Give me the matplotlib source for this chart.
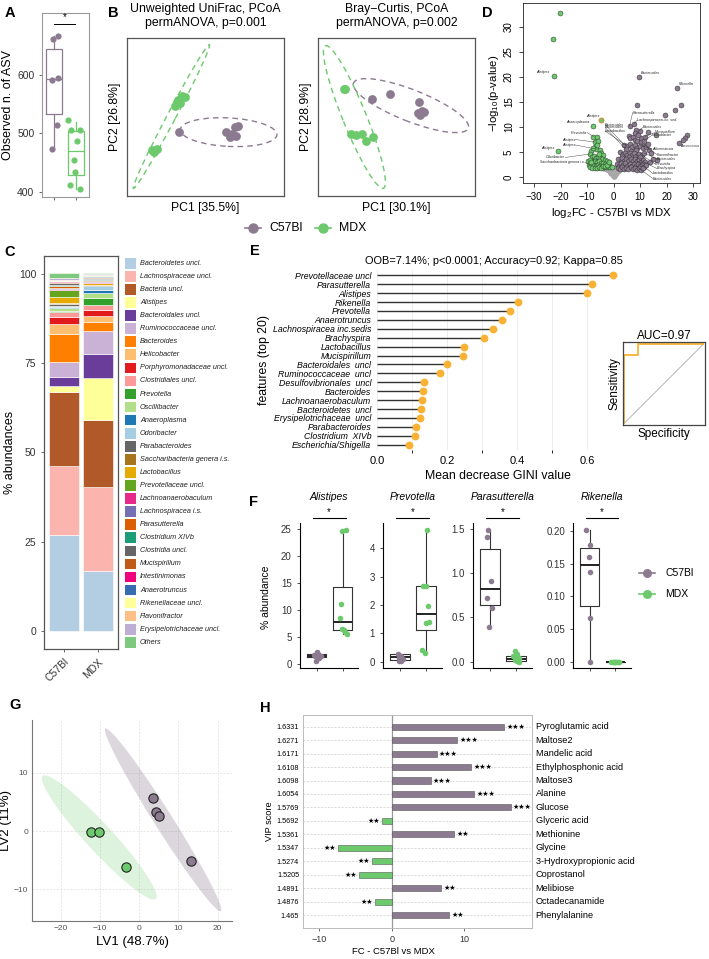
import matplotlib

matplotlib.use("Agg")
import matplotlib.pyplot as plt
import matplotlib.transforms as mtransforms
from matplotlib.patches import Ellipse, Rectangle
import numpy as np

plt.rcParams['font.family'] = ['Liberation Sans', 'DejaVu Sans']
plt.rcParams['mathtext.default'] = 'regular'

W, H = 709, 959
PURPLE = '#8c7b90'
GREEN = '#6cc96c'
ORANGE = '#f9b233'

# ---------- A: observed ASVs ----------
asv_c57_x = [0.97, 1.20, 0.90, 1.17, 1.15, 0.90]
asv_c57 = [662, 667, 591, 595, 514, 474]
asv_mdx_x = [1.62, 1.77, 2.18, 2.03, 1.91, 1.97, 1.73, 2.18]
asv_mdx = [522, 506, 506, 487, 454, 434, 412, 404]
asv_box = [dict(med=593, q1=533, q3=644, whislo=474, whishi=667),
           dict(med=470, q1=428, q3=504, whislo=404, whishi=520)]

# ---------- B: PCoA (axes-fraction coordinates) ----------
uni_c57 = [(0.332, 0.406), (0.630, 0.406), (0.655, 0.372), (0.687, 0.436),
           (0.708, 0.440), (0.693, 0.381), (0.666, 0.393)]
uni_mdx = [(0.317, 0.598), (0.349, 0.630), (0.370, 0.626), (0.328, 0.609),
           (0.307, 0.571), (0.338, 0.588), (0.159, 0.288), (0.190, 0.296), (0.173, 0.281)]
bc_c57 = [(0.343, 0.617), (0.456, 0.645), (0.646, 0.592), (0.640, 0.524),
          (0.661, 0.539), (0.676, 0.533), (0.650, 0.514)]
bc_mdx = [(0.167, 0.679), (0.174, 0.677), (0.210, 0.391), (0.244, 0.387),
          (0.280, 0.391), (0.307, 0.351), (0.350, 0.372)]
# (cx, cy, width, height, angle)
uni_ell = {'c57': (0.647, 0.404, 0.617, 0.18, -3), 'mdx': (0.283, 0.503, 1.03, 0.055, 62)}
bc_ell = {'c57': (0.592, 0.572, 0.785, 0.20, -21.4), 'mdx': (0.232, 0.500, 0.975, 0.15, -67.7)}

# ---------- C: taxa composition ----------
taxa = ['Bacteroidetes uncl.', 'Lachnospiraceae uncl.', 'Bacteria uncl.', 'Alistipes',
        'Bacteroidales uncl.', 'Ruminococcaceae uncl.', 'Bacteroides', 'Helicobacter',
        'Porphyromonadaceae uncl.', 'Clostridiales uncl.', 'Prevotella', 'Oscillibacter',
        'Anaeroplasma', 'Odoribacter', 'Parabacteroides', 'Saccharibacteria genera i.s.',
        'Lactobacillus', 'Prevotellaceae uncl.', 'Lachnoanaerobaculum', 'Lachnospiracea i.s.',
        'Parasutterella', 'Clostridium XIVb', 'Clostridia uncl.', 'Mucispirillum',
        'Intestinimonas', 'Anaerotruncus', 'Rikenellaceae uncl.', 'Flavonifractor',
        'Erysipelotrichaceae uncl.', 'Others']
taxa_colors = ['#b3cde3', '#fbb4ae', '#b15928', '#ffff99', '#6a3d9a', '#cab2d6', '#ff7f00',
               '#fdbf6f', '#e31a1c', '#fb9a99', '#33a02c', '#b2df8a', '#1f78b4', '#a6cee3',
               '#666666', '#a6761d', '#e6ab02', '#66a61e', '#e7298a', '#7570b3', '#d95f02',
               '#1b9e77', '#666666', '#bf5b17', '#f0027f', '#386cb0', '#ffff99', '#fdc086',
               '#beaed4', '#7fc97f']
abund_c57 = [26.9, 19.4, 20.8, 1.6, 2.4, 4.2, 8.0, 2.8, 1.8, 1.6, 0.2, 0.7, 0.4, 0.4, 0.4,
             0.3, 1.7, 1.9, 0.3, 0.4, 0.6, 0.3, 0.3, 0.4, 0.2, 0.2, 0.1, 0.2, 0.3, 1.4]
abund_mdx = [16.9, 23.3, 19.0, 11.7, 6.7, 6.4, 2.6, 1.8, 1.5, 1.6, 1.9, 1.4, 0.9, 0.9, 0.3,
             0.2, 0.3, 0.2, 0.2, 0.3, 0.3, 0.2, 0.3, 0.2, 0.1, 0.2, 0.3, 0.2, 0.2, 0.3]
groups = ['C57Bl', 'MDX']

# ---------- D: volcano ----------
vol_mdx = [(-20.4, 32.9), (-22.7, 27.6), (-22.6, 20.3), (-21.1, 5.3), (-7.9, 10.2),
           (-7.6, 8.1), (-6.3, 8.1), (-7.2, 7.0), (-6.0, 7.2), (-7.0, 6.0), (-6.6, 5.6),
           (-8.6, 5.2), (-9.0, 4.6), (-5.2, 5.4), (-4.6, 4.8), (-3.9, 4.4), (-8.2, 4.0),
           (-7.4, 4.3), (-6.8, 3.9), (-5.8, 4.1), (-5.0, 3.8), (-4.2, 3.6), (-3.4, 3.4),
           (-2.6, 3.2), (-9.5, 3.2), (-8.8, 3.5), (-7.9, 3.1), (-7.1, 3.3), (-6.3, 3.0),
           (-5.5, 3.2), (-4.7, 2.9), (-3.9, 2.8), (-3.1, 2.6), (-2.3, 2.5), (-1.6, 2.7),
           (-9.2, 2.4), (-8.4, 2.2), (-7.6, 2.5), (-6.8, 2.2), (-6.0, 2.4), (-5.2, 2.2),
           (-4.4, 2.1), (-3.6, 2.0), (-2.8, 2.0), (-2.0, 2.0), (-1.2, 2.1), (-9.0, 2.0),
           (-8.0, 1.9), (-7.0, 1.9), (-6.2, 1.9), (-5.6, 2.0), (-4.8, 1.9), (-4.0, 2.3),
           (-3.2, 2.2), (-2.4, 2.4), (-1.8, 3.0), (-0.8, 2.0), (-7.8, 5.8), (-6.4, 6.4),
           (-5.6, 4.6), (-8.4, 3.0)]
vol_mdx_hl = [(-4.8, 11.5)]
vol_c57 = [(9.6, 20.1), (24.1, 17.9), (9.0, 14.4), (25.5, 14.4), (23.3, 13.5), (19.5, 12.5),
           (6.0, 10.2), (7.7, 10.7), (27.6, 8.4), (27.0, 7.9), (26.1, 7.4), (24.8, 6.9),
           (16.0, 8.4), (13.1, 9.1), (16.3, 3.4), (13.5, 5.5), (12.0, 6.2), (10.5, 7.8),
           (11.8, 8.1), (9.8, 9.3), (8.6, 9.4), (5.8, 8.2), (6.3, 7.8), (7.2, 8.0), (8.0, 7.5),
           (9.0, 7.2), (10.2, 7.0), (11.5, 7.3), (3.9, 6.5), (5.0, 6.2), (6.0, 6.6), (7.0, 6.0),
           (8.0, 6.4), (9.0, 5.9), (10.0, 6.3), (11.0, 5.8), (12.3, 6.0), (4.5, 5.6), (6.6, 5.3),
           (8.6, 5.5), (2.5, 5.0), (3.4, 4.6), (4.2, 4.9), (5.2, 4.4), (6.0, 4.8), (7.0, 4.5),
           (7.8, 4.9), (8.8, 4.3), (9.6, 4.7), (10.6, 4.4), (11.6, 4.8), (3.0, 4.2), (5.7, 4.1),
           (8.2, 4.0), (10.0, 4.1), (1.8, 3.6), (2.6, 3.3), (3.3, 3.8), (4.0, 3.2), (4.8, 3.6),
           (5.6, 3.3), (6.4, 3.7), (7.2, 3.2), (8.0, 3.6), (8.8, 3.2), (9.6, 3.5), (10.4, 3.1),
           (11.2, 3.4), (12.0, 3.0), (14.8, 3.6), (1.2, 2.6), (2.0, 2.3), (2.8, 2.8), (3.6, 2.4),
           (4.4, 2.8), (5.2, 2.3), (6.0, 2.7), (6.8, 2.3), (7.6, 2.7), (8.4, 2.2), (9.2, 2.6),
           (10.0, 2.2), (10.8, 2.5), (11.6, 2.1), (12.4, 2.4), (1.5, 1.9), (2.4, 1.7), (3.2, 2.0),
           (4.0, 1.6), (4.8, 1.9), (5.6, 1.6), (6.4, 2.0), (7.2, 1.6), (8.0, 1.9), (8.8, 1.5),
           (9.6, 1.8), (10.4, 1.5), (11.2, 1.8), (8.0, 8.8), (9.2, 8.5), (13.0, 6.6), (14.0, 4.8),
           (13.6, 3.0)]
vol_ns = [(0.0, 0.05), (0.4, 0.3), (-0.4, 0.3), (0.9, 0.6), (-0.9, 0.6), (1.4, 0.9), (-1.4, 0.9),
          (1.9, 1.2), (-1.9, 1.2), (2.5, 1.4), (-2.5, 1.4), (3.0, 1.6), (-3.0, 1.6), (3.6, 1.7),
          (-3.6, 1.7), (4.2, 1.8), (-4.2, 1.8), (4.9, 1.8), (-4.9, 1.8), (5.6, 1.9), (-5.6, 1.9),
          (6.3, 1.8), (-6.0, 1.9), (7.2, 1.7), (8.2, 1.8), (0.0, 0.6), (0.6, 0.9), (-0.6, 0.9),
          (1.2, 1.3), (-1.2, 1.3), (1.8, 1.6), (-1.8, 1.6), (2.4, 1.8), (-2.4, 1.8), (3.1, 1.9),
          (-3.1, 1.9), (0.2, 1.2), (-0.2, 1.2), (0.8, 1.6), (-0.8, 1.6), (1.5, 1.9), (-1.5, 1.9),
          (2.2, 1.9), (-2.2, 1.9), (0.0, 1.9), (1.0, 1.9), (-1.0, 1.9), (0.4, 1.6), (-0.4, 1.6)]
# (text, text x, text y, point x, point y, ha)
vol_labels = [('Alistipes', -24.0, 20.9, None, None, 'right'),
              ('Bacteroides', 10.3, 20.7, None, None, 'left'),
              ('Rikenella', 24.8, 18.6, None, None, 'left'),
              ('Alistipes', -10.4, 12.2, None, None, 'left'),
              ('Anaeroplasma', -9.1, 11.0, None, None, 'right'),
              ('Parasutterella', 7.2, 12.9, 6.0, 10.2, 'left'),
              ('Lachnospiracea inc. sed.', 8.8, 11.3, 7.7, 10.7, 'left'),
              ('Bacteroides', -3.2, 10.5, 3.9, 6.5, 'left'),
              ('Bacteroides', -3.2, 9.9, 4.5, 5.6, 'left'),
              ('Lactobacillus', -3.2, 9.2, 5.0, 6.2, 'left'),
              ('Bacteroides', 11.0, 9.9, 9.8, 9.3, 'left'),
              ('Prevotella', -10.1, 8.9, -7.6, 8.1, 'right'),
              ('Mucispirillum', 15.7, 8.9, 11.8, 8.1, 'left'),
              ('Helicobacter', 14.4, 8.3, 11.5, 7.3, 'left'),
              ('Alistipes', -14.5, 7.5, -7.2, 7.0, 'right'),
              ('Alistipes', -14.5, 6.4, -6.6, 5.6, 'right'),
              ('Alistipes', -22.3, 5.9, None, None, 'right'),
              ('Akkermansia', 14.4, 5.7, 10.0, 6.3, 'left'),
              ('Aerococcus', 25.1, 6.2, None, None, 'left'),
              ('Odoribacter', -18.3, 3.9, -9.0, 4.6, 'right'),
              ('Saccharibacteria genera i.s.', -10.8, 2.9, -9.2, 2.4, 'right'),
              ('Flavonifractor', 16.3, 4.5, 12.3, 6.0, 'left'),
              ('Bacteroides', 16.3, 3.6, 11.6, 4.8, 'left'),
              ('Prevotella', 15.7, 2.6, 10.6, 4.4, 'left'),
              ('Brachyspira', 16.3, 1.7, 9.6, 3.5, 'left'),
              ('Lactobacillus', 14.8, 0.7, 8.8, 3.2, 'left'),
              ('Bacteroides', 14.8, -0.3, 8.4, 2.2, 'left')]

# ---------- E: random forest ----------
rf_features = ['Prevotellaceae uncl', 'Parasutterella', 'Alistipes', 'Rikenella', 'Prevotella',
               'Anaerotruncus', 'Lachnospiracea inc.sedis', 'Brachyspira', 'Lactobacillus',
               'Mucispirillum', 'Bacteroidales  uncl', 'Ruminococcaceae  uncl',
               'Desulfovibrionales  uncl', 'Bacteroides', 'Lachnoanaerobaculum',
               'Bacteroidetes  uncl', 'Erysipelotrichaceae  uncl', 'Parabacteroides',
               'Clostridium  XIVb', 'Escherichia/Shigella']
rf_gini = [0.674, 0.614, 0.600, 0.401, 0.380, 0.357, 0.332, 0.304, 0.248, 0.246, 0.199, 0.180,
           0.132, 0.131, 0.127, 0.124, 0.122, 0.111, 0.107, 0.089]
roc_fpr = [0.0, 0.0, 0.17, 0.17, 1.0]
roc_tpr = [0.0, 0.86, 0.86, 1.0, 1.0]

# ---------- F: genus boxplots ----------
genera = ['Alistipes', 'Prevotella', 'Parasutterella', 'Rikenella']
gen_c57 = [[2.3, 2.0, 1.8, 1.6, 1.5, 1.2, 0.6],
           [0.28, 0.22, 0.15, 0.10, 0.03, 0.01],
           [1.49, 1.41, 0.91, 0.72, 0.61, 0.39],
           [0.202, 0.178, 0.160, 0.137, 0.067, 0.0]]
gen_c57_x = [[1.0, 1.05, 0.9, 1.15, 0.95, 1.1, 0.98],
             [0.92, 1.05, 0.97, 1.1, 1.02, 0.95],
             [0.93, 0.9, 1.02, 0.9, 1.08, 0.95],
             [0.85, 1.0, 0.97, 1.0, 1.02, 1.02]]
gen_mdx = [[24.6, 24.9, 11.2, 8.6, 6.6, 6.3, 6.0, 5.7],
           [4.65, 2.68, 2.66, 1.98, 1.40, 1.36, 0.42, 0.30],
           [0.12, 0.09, 0.06, 0.04, 0.03, 0.02, 0.01, 0.0],
           [0.0, 0.0, 0.0, 0.0, 0.0, 0.0, 0.0, 0.0]]
gen_mdx_x = [[1.98, 2.12, 1.92, 1.9, 1.97, 2.05, 2.1, 2.15],
             [2.05, 1.9, 2.0, 2.07, 2.12, 2.0, 1.85, 1.95],
             [1.95, 2.05, 1.9, 2.1, 2.0, 1.95, 2.05, 2.12],
             [1.85, 1.9, 1.95, 2.0, 2.05, 2.1, 2.15, 2.0]]
gen_box_c57 = [dict(q1=1.4, med=1.6, q3=1.9, whislo=0.6, whishi=2.3),
               dict(q1=0.05, med=0.18, q3=0.27, whislo=0.01, whishi=0.28),
               dict(q1=0.64, med=0.82, q3=1.28, whislo=0.39, whishi=1.49),
               dict(q1=0.085, med=0.148, q3=0.174, whislo=0.0, whishi=0.202)]
gen_box_mdx = [dict(q1=6.3, med=7.8, q3=14.4, whislo=5.7, whishi=24.9),
               dict(q1=1.12, med=1.68, q3=2.68, whislo=0.30, whishi=4.65),
               dict(q1=0.01, med=0.03, q3=0.065, whislo=0.0, whishi=0.12),
               dict(q1=0.0, med=0.0, q3=0.0, whislo=0.0, whishi=0.0)]
gen_ylim = [(-0.72, 26.1), (-0.23, 4.88), (-0.0745, 1.565), (-0.0101, 0.212)]
gen_ticks = [[0, 5, 10, 15, 20, 25], [0, 1, 2, 3, 4], [0.0, 0.5, 1.0, 1.5],
             [0.0, 0.05, 0.10, 0.15, 0.20]]
gen_ticklabels = [['0', '5', '10', '15', '20', '25'], ['0', '1', '2', '3', '4'],
                  ['0.0', '0.5', '1.0', '1.5'], ['0.00', '0.05', '0.10', '0.15', '0.20']]

# ---------- G: PLS-DA scores ----------
lv_c57 = [(3.4, 5.6), (4.4, 3.2), (5.1, 2.5), (13.1, -5.1)]
lv_mdx = [(-12.4, -0.1), (-10.2, -0.1), (-3.5, -6.2)]
lv_ell = {'c57': (6.1, 1.9, 43.0, 4.0, -46.5), 'mdx': (-10.2, -1.1, 35.8, 5.5, -35.5)}

# ---------- H: VIP metabolites ----------
metabolites = ['Pyroglutamic acid', 'Maltose2', 'Mandelic acid', 'Ethylphosphonic acid',
               'Maltose3', 'Alanine', 'Glucose', 'Glyceric acid', 'Methionine', 'Glycine',
               '3-Hydroxypropionic acid', 'Coprostanol', 'Melibiose', 'Octadecanamide',
               'Phenylalanine']
vip = ['1.6331', '1.6271', '1.6171', '1.6108', '1.6098', '1.6054', '1.5769', '1.5692',
       '1.5361', '1.5347', '1.5274', '1.5205', '1.4891', '1.4876', '1.465']
fc = [15.5, 9.0, 6.2, 11.0, 5.4, 11.4, 16.4, -1.3, 8.6, -7.4, -2.7, -4.5, 6.8, -2.3, 7.9]
signif = ['***'] * 7 + ['**'] * 8


fig = plt.figure(figsize=(W / 100, H / 100), dpi=100)
ov = fig.add_axes([0, 0, 1, 1])
ov.set_xlim(0, W)
ov.set_ylim(H, 0)
ov.axis('off')


def ax_px(l, t, r, b):
    return fig.add_axes([l / W, 1 - b / H, (r - l) / W, (b - t) / H])


def ftext(x, y, s, **kw):
    ov.text(x, y, s, **kw)


def frame(ax, color, lw=0.8):
    for sp in ax.spines.values():
        sp.set_color(color)
        sp.set_linewidth(lw)


for lab, x, y in (('A', 10, 13), ('B', 113, 13), ('C', 10, 252), ('D', 487, 13),
                  ('E', 255, 251), ('F', 254, 502), ('G', 15, 705), ('H', 265, 708)):
    ftext(x, y, lab, fontsize=10.5, fontweight='bold', ha='center', va='center')

# ---- A
ax = ax_px(42, 13, 89, 197)
for i, (st, c) in enumerate(zip(asv_box, [PURPLE, GREEN])):
    ax.bxp([st], positions=[i + 1], widths=0.75, showfliers=False, showcaps=False,
           boxprops=dict(color=c, lw=0.9), whiskerprops=dict(color=c, lw=0.9),
           medianprops=dict(color=c, lw=0.9))
ax.scatter(asv_c57_x, asv_c57, s=20, color=PURPLE, zorder=3, lw=0)
ax.scatter(asv_mdx_x, asv_mdx, s=20, color=GREEN, zorder=3, lw=0)
ax.plot([1.0, 1.95], [687, 687], color='k', lw=0.7)
ax.text(1.48, 691, '*', ha='center', va='bottom', fontsize=7)
ax.set_xlim(0.45, 2.6)
ax.set_ylim(391, 706)
ax.set_xticks([1, 2])
ax.set_xticklabels([])
ax.set_yticks([400, 500, 600])
ax.tick_params(labelsize=7.5, length=2, colors='#333', width=0.5)
frame(ax, '#9a9a9a')
ax.set_ylabel('Observed n. of ASV', fontsize=9, labelpad=2)

# ---- B
for (l, r), title, c57, mdx, ell, xl, yl in (
        ((127, 284), 'Unweighted UniFrac, PCoA\npermANOVA, p=0.001', uni_c57, uni_mdx, uni_ell,
         'PC1 [35.5%]', 'PC2 [26.8%]'),
        ((318, 475), 'Bray\u2212Curtis, PCoA\npermANOVA, p=0.002', bc_c57, bc_mdx, bc_ell,
         'PC1 [30.1%]', 'PC2 [28.9%]')):
    ax = ax_px(l, 38, r, 196)
    ax.set_xlim(0, 1)
    ax.set_ylim(0, 1)
    ax.set_xticks([])
    ax.set_yticks([])
    frame(ax, '#555555', 0.9)
    for key, col in (('c57', PURPLE), ('mdx', GREEN)):
        cx, cy, w, h, ang = ell[key]
        ax.add_patch(Ellipse((cx, cy), w, h, angle=ang, fill=False, ec=col, lw=1.0, ls=(0, (4, 3))))
    ax.scatter(*np.array(c57).T, s=40, color=PURPLE, lw=0, zorder=3)
    ax.scatter(*np.array(mdx).T, s=40, color=GREEN, lw=0, zorder=3)
    ftext((l + r) / 2, 16, title, ha='center', va='center', fontsize=8.8, linespacing=1.25)
    ax.set_xlabel(xl, fontsize=8.8, labelpad=4)
    ax.set_ylabel(yl, fontsize=8.8, labelpad=4)

for xm, name, col in ((253, 'C57Bl', PURPLE), (323, 'MDX', GREEN)):
    ov.plot([xm - 8, xm + 8], [228, 228], color=col, lw=1.2)
    ov.plot([xm], [228], 'o', color=col, ms=6.5)
    ftext(xm + 16, 228, name, va='center', fontsize=8.8)

# ---- C
ax = ax_px(44, 256, 118, 649)
bottoms = np.zeros(2)
for k, name in enumerate(taxa):
    vals = np.array([abund_c57[k], abund_mdx[k]])
    ax.bar([1, 2], vals, width=0.9, bottom=bottoms, color=taxa_colors[k], ec='white', lw=0.4)
    bottoms += vals
ax.set_xlim(0.4, 2.6)
ax.set_ylim(-5.1, 105.1)
ax.set_yticks([0, 25, 50, 75, 100])
ax.set_xticks([1, 2])
ax.set_xticklabels(groups, rotation=45, ha='right', rotation_mode='anchor')
ax.tick_params(labelsize=7.5, length=2, colors='#333', width=0.5)
frame(ax, '#555555', 0.9)
ax.set_ylabel('% abundances', fontsize=9, labelpad=2)
for k, name in enumerate(taxa):
    yc = 263.3 + k * 13.07
    ov.add_patch(Rectangle((124.5, yc - 5.3), 11.5, 10.6, color=taxa_colors[k], lw=0))
    ftext(140, yc, name, va='center', fontsize=5.2, style='italic', color='#222')

# ---- D
ax = ax_px(523, 3, 700, 183)
ax.scatter(*np.array(vol_ns).T, s=12, color='#a8a8a8', lw=0, zorder=1)
ax.scatter(*np.array(vol_c57).T, s=13, color=PURPLE, ec='#222', lw=0.3, zorder=2)
ax.scatter(*np.array(vol_mdx).T, s=13, color=GREEN, ec='#222', lw=0.3, zorder=2)
ax.scatter(*np.array(vol_mdx_hl).T, s=13, color=GREEN, ec='#e8762c', lw=0.6, zorder=3)
for txt, tx, ty, px, py, ha in vol_labels:
    ax.text(tx, ty, txt, fontsize=2.6, style='italic', ha=ha, va='center', color='#222', zorder=4)
    if px is not None:
        ax.plot([tx, px], [ty, py], color='#333', lw=0.3, zorder=4)
ax.set_xlim(-34.2, 32.6)
ax.set_ylim(-1.2, 34.8)
ax.set_xticks([-30, -20, -10, 0, 10, 20, 30])
ax.set_yticks([0, 5, 10, 15, 20, 25, 30])
ax.tick_params(labelsize=7, length=3, width=0.5, direction='out')
for lbl in ax.get_yticklabels():
    lbl.set_rotation(90)
    lbl.set_va('center')
frame(ax, '#222222', 0.6)
ax.set_xlabel('log$_2$FC - C57Bl vs MDX', fontsize=8.2, labelpad=3)
ax.set_ylabel('\u2212log$_{10}$(p-value)', fontsize=8.2, labelpad=2)
for xm, name, col in ((621.7, 'C57Bl', PURPLE), (668.3, 'MDX', GREEN)):
    ov.plot([xm], [19], 'o', color=col, mec='#222', mew=0.5, ms=6)
    ftext(xm + 5, 19, name, va='center', fontsize=7.2)

# ---- E
ax = ax_px(374, 270, 622, 450)
rows = np.arange(len(rf_features))
ax.hlines(rows, 0, rf_gini, color='#333333', lw=1.0, zorder=2)
ax.scatter(rf_gini, rows, s=32, color=ORANGE, lw=0, zorder=3)
ax.set_xlim(-0.01, 0.70)
ax.set_ylim(19.6, -0.6)
ax.set_yticks(rows)
ax.set_yticklabels(rf_features, fontsize=6.3, style='italic')
ax.set_xticks([0, 0.2, 0.4, 0.6])
ax.set_xticklabels(['0.0', '0.2', '0.4', '0.6'], fontsize=8)
ax.set_xticks(np.arange(0.1, 0.7, 0.2), minor=True)
ax.grid(axis='x', which='both', color='#ebebeb', lw=0.6)
ax.set_axisbelow(True)
ax.tick_params(length=0, pad=2)
ax.tick_params(axis='x', pad=4)
for sp in ax.spines.values():
    sp.set_visible(False)
ax.set_xlabel('Mean decrease GINI value', fontsize=8.8, labelpad=3)
ax.set_ylabel('features (top 20)', fontsize=8.8, labelpad=2)
ftext(623, 261, 'OOB=7.14%; p<0.0001; Accuracy=0.92; Kappa=0.85', ha='right', va='center',
      fontsize=7.9)

ax = ax_px(623.3, 341.7, 705, 425)
ax.plot([0, 1], [0, 1], color='#aaaaaa', lw=0.6)
ax.plot(roc_fpr, roc_tpr, color=ORANGE, lw=1.3)
ax.set_xlim(-0.01, 1.02)
ax.set_ylim(-0.02, 1.03)
ax.set_xticks([])
ax.set_yticks([])
frame(ax, '#444444', 0.9)
ax.set_title('AUC=0.97', fontsize=8.5, pad=2)
ax.set_xlabel('Specificity', fontsize=8.5, labelpad=2)
ax.set_ylabel('Sensitivity', fontsize=8.5, labelpad=2)

# ---- F
f_lr = [(300, 358.3), (383.3, 441.7), (473.3, 531.7), (573.3, 630.7)]
for g, (l, r) in enumerate(f_lr):
    ax = ax_px(l, 523.3, r, 668.3)
    for pos, st in ((1, gen_box_c57[g]), (2, gen_box_mdx[g])):
        ax.bxp([st], positions=[pos], widths=0.75, showfliers=False, showcaps=False,
               boxprops=dict(color='#333333', lw=0.8), whiskerprops=dict(color='#333333', lw=0.8),
               medianprops=dict(color='#222222', lw=1.4))
    ax.scatter(gen_c57_x[g], gen_c57[g], s=16, color=PURPLE, lw=0, zorder=3)
    ax.scatter(gen_mdx_x[g], gen_mdx[g], s=16, color=GREEN, lw=0, zorder=3)
    ax.set_xlim(0.36, 2.6)
    ax.set_ylim(*gen_ylim[g])
    ax.set_yticks(gen_ticks[g])
    ax.set_yticklabels(gen_ticklabels[g])
    ax.set_xticks([1, 2])
    ax.set_xticklabels([])
    ax.tick_params(labelsize=7, length=2.5, width=0.6, colors='#333')
    ax.spines['top'].set_visible(False)
    ax.spines['right'].set_visible(False)
    ax.spines['left'].set_linewidth(0.8)
    ax.spines['bottom'].set_linewidth(0.8)
    tr = mtransforms.blended_transform_factory(ax.transData, ax.transAxes)
    ax.plot([0.85, 2.12], [1.034, 1.034], color='k', lw=0.8, transform=tr, clip_on=False)
    ax.text(1.48, 1.045, '*', transform=tr, ha='center', va='bottom', fontsize=7)
    ax.text(0.5, 1.18, genera[g], transform=ax.transAxes, ha='center', va='center',
            fontsize=7.5, style='italic')
ftext(266, 597, '% abundance', rotation=90, ha='center', va='center', fontsize=7.5)
for ym, name, col in ((573.3, 'C57Bl', PURPLE), (594, 'MDX', GREEN)):
    ov.plot([639, 655], [ym, ym], color=col, lw=1.2)
    ov.plot([647], [ym], 'o', color=col, ms=5.5)
    ftext(665, ym, name, va='center', fontsize=7.5)

# ---- G
ax = ax_px(32.3, 720, 231.7, 921)
for key, col, alpha in (('c57', PURPLE, 0.3), ('mdx', GREEN, 0.22)):
    cx, cy, w, h, ang = lv_ell[key]
    ax.add_patch(Ellipse((cx, cy), w, h, angle=ang, color=col, alpha=alpha, lw=0))
ax.scatter(*np.array(lv_c57).T, s=45, color=PURPLE, ec='#222', lw=0.8, zorder=3)
ax.scatter(*np.array(lv_mdx).T, s=45, color=GREEN, ec='#222', lw=0.8, zorder=3)
ax.set_xlim(-27.3, 23.6)
ax.set_ylim(-15.4, 19.0)
ax.set_xticks([-20, -10, 0, 10, 20])
ax.set_yticks([-10, 0, 10])
ax.grid(color='#dddddd', lw=0.5, ls=(0, (3, 2)))
ax.set_axisbelow(True)
ax.tick_params(labelsize=6, length=0, colors='#555555', pad=3)
ax.spines['top'].set_visible(False)
ax.spines['right'].set_visible(False)
ax.spines['left'].set_color('#777777')
ax.spines['bottom'].set_color('#777777')
ax.set_xlabel('LV1 (48.7%)', fontsize=9.5, labelpad=3)
ax.set_ylabel('LV2 (11%)', fontsize=9.5, labelpad=1)
for ym, name, col in ((729, 'C57Bl', PURPLE), (746.7, 'MDX', GREEN)):
    ov.plot([176], [ym], 'o', color=col, mec='#222', mew=0.8, ms=8)
    ftext(188, ym, name, va='center', fontsize=7.5, color='#333')

# ---- H
ax = ax_px(303.3, 715, 532.3, 927.7)
rows = np.arange(len(metabolites))
cols = [PURPLE if v > 0 else GREEN for v in fc]
ax.barh(rows, fc, height=0.45, color=cols, ec='#555555', lw=0.4, zorder=3)
for i, (v, s) in enumerate(zip(fc, signif)):
    if v > 0:
        ax.text(v + 0.3, i, '\u2605' * len(s), ha='left', va='center', fontsize=5,
                family=['DejaVu Sans'], zorder=4)
    else:
        ax.text(v - 0.3, i, '\u2605' * len(s), ha='right', va='center', fontsize=5,
                family=['DejaVu Sans'], zorder=4)
    ax.text(1.015, i, metabolites[i], transform=mtransforms.blended_transform_factory(
        ax.transAxes, ax.transData), ha='left', va='center', fontsize=6.6)
ax.axvline(0, color='#999999', lw=0.9, zorder=2)
ax.set_xlim(-12.2, 19.4)
ax.set_ylim(14.94, -0.87)
ax.set_yticks(rows)
ax.set_yticklabels(vip, fontsize=5.2)
ax.set_xticks([-10, 0, 10])
ax.grid(axis='y', color='#cccccc', lw=0.5, ls=(0, (3, 2)))
ax.tick_params(axis='y', length=0, pad=3)
ax.tick_params(axis='x', labelsize=6.5, length=2, width=0.5, colors='#333')
frame(ax, '#bbbbbb', 0.7)
ax.set_ylabel('VIP score', fontsize=6.6, labelpad=2)
ftext(393, 951.5, 'FC - C57Bl vs MDX', ha='center', va='center', fontsize=6.8)

fig.savefig('out.png', dpi=100)
